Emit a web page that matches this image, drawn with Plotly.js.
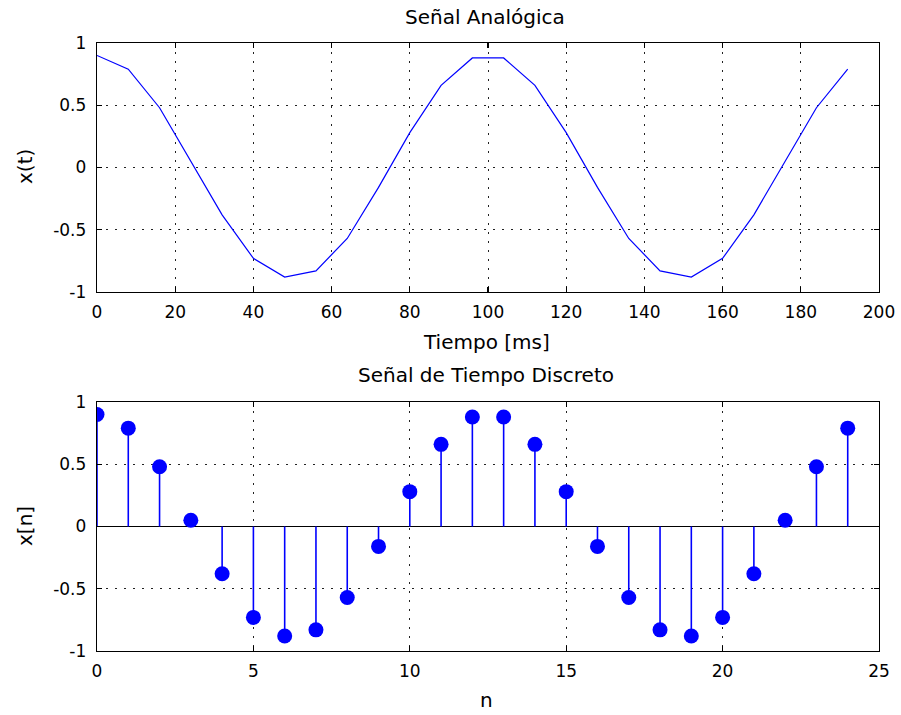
<!DOCTYPE html>
<html><head><meta charset="utf-8">
<script src="https://cdn.plot.ly/plotly-3.0.1.min.js"></script>
<style>body{margin:0;background:#fff}#c{width:901px;height:715px}</style>
</head><body><div id="c"></div>
<script>
const n = [0,1,2,3,4,5,6,7,8,9,10,11,12,13,14,15,16,17,18,19,20,21,22,23,24];
const tMs = [0,8,16,24,32,40,48,56,64,72,80,88,96,104,112,120,128,136,144,152,160,168,176,184,192];
const xn = [0.90,0.79,0.48,0.05,-0.38,-0.73,-0.88,-0.83,-0.57,-0.16,0.28,0.66,0.88,0.88,0.66,0.28,-0.16,-0.57,-0.83,-0.88,-0.73,-0.38,0.05,0.48,0.79];
const yTicks = [-1,-0.5,0,0.5,1];
const yTickText = ['-1','-0.5','0','0.5','1'];
const xTicksTop = [0,20,40,60,80,100,120,140,160,180,200];
const xTicksBot = [0,5,10,15,20,25];

const stemX = [], stemY = [];
n.forEach((v,i)=>{stemX.push(v,v,null); stemY.push(0,xn[i],null);});

const blue = '#0000ff';
const fam = 'DejaVu Sans, sans-serif';
const tickFont = {family:fam, size:17, color:'#000'};
const labFont = {family:fam, size:20, color:'#000'};
const axBase = {
  showline:true, linecolor:'#000', linewidth:1.3, mirror:'ticks',
  ticks:'inside', ticklen:5, tickcolor:'#000', tickwidth:1.3,
  showgrid:true, gridcolor:'#222', griddash:'1.5px,7.5px', gridwidth:1,
  zeroline:false, tickfont:tickFont
};
const traces = [
  {x:tMs, y:xn, type:'scatter', mode:'lines', line:{color:blue,width:1.2}, xaxis:'x', yaxis:'y', hoverinfo:'skip'},
  {x:[0,25], y:[0,0], type:'scatter', mode:'lines', line:{color:'#000',width:1.2}, xaxis:'x2', yaxis:'y2', hoverinfo:'skip'},
  {x:stemX, y:stemY, type:'scatter', mode:'lines', line:{color:blue,width:1.6}, xaxis:'x2', yaxis:'y2', connectgaps:false, hoverinfo:'skip'},
  {x:n, y:xn, type:'scatter', mode:'markers', marker:{color:blue,size:15,line:{width:0}}, xaxis:'x2', yaxis:'y2'}
];
const H = 715, W = 901;
const py = v => 1 - v/H, px = v => v/W;
const layout = {
  width:W, height:H, showlegend:false,
  margin:{l:0,r:0,t:0,b:0},
  paper_bgcolor:'#fff', plot_bgcolor:'#fff', font:tickFont,
  xaxis:Object.assign({}, axBase, {domain:[px(97),px(879)], range:[0,200], tickvals:xTicksTop, anchor:'y', ticklabelstandoff:4}),
  yaxis:Object.assign({}, axBase, {domain:[py(292),py(43)], range:[-1,1], tickvals:yTicks, ticktext:yTickText, anchor:'x', ticklabelstandoff:6}),
  xaxis2:Object.assign({}, axBase, {domain:[px(97),px(879)], range:[0,25], tickvals:xTicksBot, anchor:'y2', ticklabelstandoff:4}),
  yaxis2:Object.assign({}, axBase, {domain:[py(651),py(402)], range:[-1,1], tickvals:yTicks, ticktext:yTickText, anchor:'x2', ticklabelstandoff:6}),
  annotations:[
    {text:'Señal Analógica', xref:'paper', yref:'paper', x:px(485), y:py(17), showarrow:false, xanchor:'center', yanchor:'middle', font:labFont},
    {text:'Tiempo [ms]', xref:'paper', yref:'paper', x:px(486), y:py(342), showarrow:false, xanchor:'center', yanchor:'middle', font:labFont},
    {text:'x(t)', xref:'paper', yref:'paper', x:px(25), y:py(167), textangle:-90, showarrow:false, xanchor:'center', yanchor:'middle', font:labFont},
    {text:'Señal de Tiempo Discreto', xref:'paper', yref:'paper', x:px(486), y:py(375), showarrow:false, xanchor:'center', yanchor:'middle', font:labFont},
    {text:'n', xref:'paper', yref:'paper', x:px(486), y:py(700), showarrow:false, xanchor:'center', yanchor:'middle', font:labFont},
    {text:'x[n]', xref:'paper', yref:'paper', x:px(25), y:py(526), textangle:-90, showarrow:false, xanchor:'center', yanchor:'middle', font:labFont}
  ]
};
Plotly.newPlot('c', traces, layout, {displayModeBar:false, staticPlot:true});
</script></body></html>
